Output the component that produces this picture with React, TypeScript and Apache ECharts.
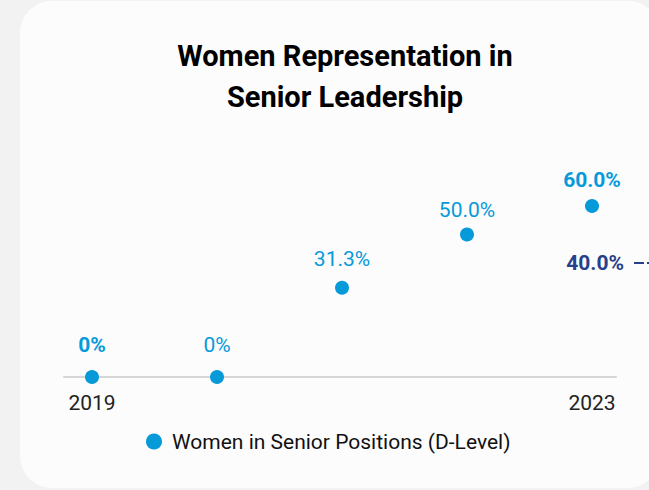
import React, { useEffect, useRef } from "react";
import * as echarts from "echarts";

const years = [2019, 2020, 2021, 2022, 2023];
const shares = [0, 0, 31.3, 50.0, 60.0];
const emphasized = [true, false, false, false, true];
const labelDistances = [15, 15, 11, 7, 9];
const targetValue = 40;
const targetSpan = [0, 1];
const axisYearLabels = [2019, 2023];
const seriesName = "Women in Senior Positions (D-Level)";
const targetName = "Target";
const titleText = "Women Representation in\nSenior Leadership";

const BLUE = "#069ad9";
const NAVY = "#27408b";

const X_MIN = 2018.776;
const X_MAX = 2023.192;

export default function App() {
  const ref = useRef<HTMLDivElement>(null);
  useEffect(() => {
    if (!ref.current) return;
    const chart = echarts.init(ref.current, null, { renderer: "svg" });
    const fmt = (v: number) => (v === 0 ? "0%" : v.toFixed(1) + "%");
    chart.setOption({
      animation: false,
      backgroundColor: "transparent",
      textStyle: { fontFamily: "Roboto" },
      title: {
        text: titleText,
        left: 340,
        top: 30,
        textAlign: "center",
        textStyle: {
          fontFamily: "Roboto",
          fontSize: 29,
          fontWeight: "bold",
          color: "#000",
          lineHeight: 41,
        },
      },
      legend: {
        data: [seriesName],
        left: 141,
        top: 426,
        icon: "circle",
        itemWidth: 26,
        itemHeight: 16,
        textStyle: { fontFamily: "Roboto", fontSize: 21, color: "#111" },
      },
      grid: [
        { left: 64, right: 33, top: 149, bottom: 113, containLabel: false },
        { left: 634, right: -300, top: 149, bottom: 113, containLabel: false },
      ],
      xAxis: [
        {
          type: "value",
          gridIndex: 0,
          min: X_MIN,
          max: X_MAX,
          axisLine: { show: true, lineStyle: { color: "#d6d6d6", width: 2 } },
          axisTick: { show: false },
          splitLine: { show: false },
          axisLabel: {
            customValues: axisYearLabels,
            formatter: (v: number) => String(Math.round(v)),
            fontFamily: "Roboto",
            fontSize: 21,
            color: "#222",
            margin: 15,
          },
        },
        {
          type: "value",
          gridIndex: 1,
          min: 0,
          max: 1,
          show: false,
        },
      ],
      yAxis: [
        { type: "value", gridIndex: 0, min: 0, max: 80, show: false, splitLine: { show: false } },
        { type: "value", gridIndex: 1, min: 0, max: 80, show: false, splitLine: { show: false } },
      ],
      series: [
        {
          name: seriesName,
          type: "scatter",
          clip: false,
          symbol: "circle",
          symbolSize: 14,
          itemStyle: { color: BLUE, opacity: 1 },
          data: years.map((y, i) => ({
            value: [y, shares[i]],
            label: {
              show: true,
              position: "top",
              distance: labelDistances[i],
              formatter: () => fmt(shares[i]),
              fontFamily: "Roboto",
              fontSize: 21,
              fontWeight: emphasized[i] ? "bold" : "normal",
              color: BLUE,
            },
          })),
        },
        {
          name: targetName,
          type: "line",
          xAxisIndex: 1,
          yAxisIndex: 1,
          clip: false,
          symbol: "circle",
          symbolSize: 0,
          showSymbol: true,
          silent: true,
          lineStyle: { color: NAVY, width: 2, type: [10, 3] },
          itemStyle: { color: NAVY },
          data: targetSpan.map((x, i) => ({
            value: [x, targetValue],
            label: {
              show: i === 0,
              position: "left",
              distance: 10,
              formatter: () => targetValue.toFixed(1) + "%",
              fontFamily: "Roboto",
              fontSize: 21,
              fontWeight: "bold",
              color: NAVY,
            },
          })),
        },
      ],
    });
    return () => chart.dispose();
  }, []);

  return (
    <div
      style={{
        position: "fixed",
        left: 0,
        top: 0,
        width: 649,
        height: 490,
        background: "#f2f2f2",
        overflow: "hidden",
      }}
    >
      <div
        style={{
          position: "absolute",
          left: 20,
          top: 1,
          width: 640,
          height: 487,
          borderRadius: 32,
          background: "#fcfcfc",
        }}
      />
      <div
        ref={ref}
        style={{ position: "absolute", left: 0, top: 0, width: 649, height: 490 }}
      />
    </div>
  );
}
